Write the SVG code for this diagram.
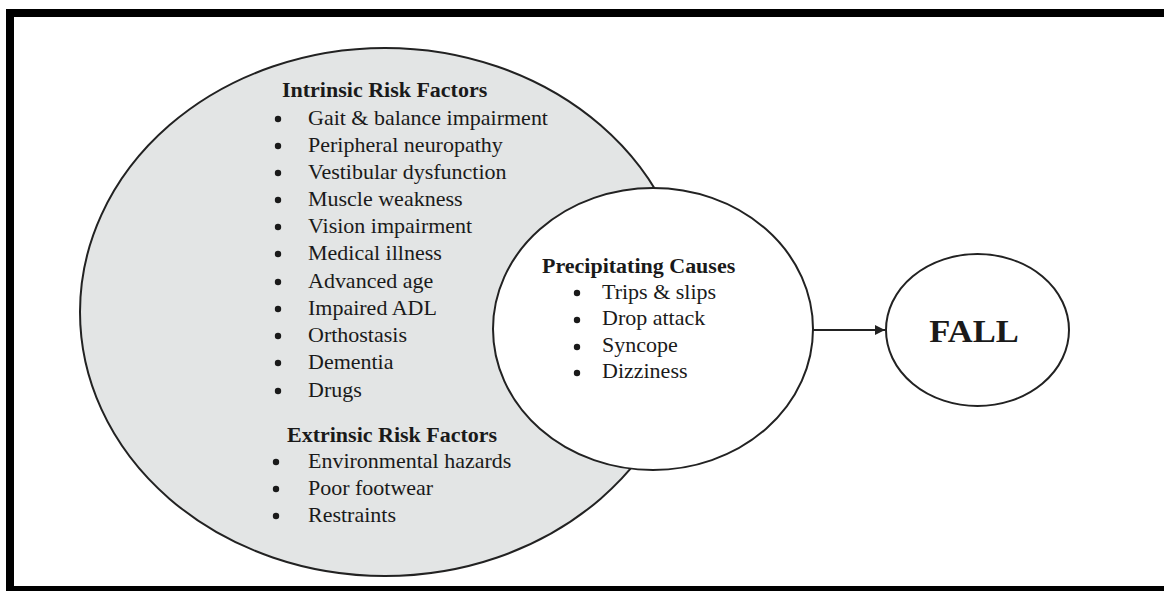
<svg xmlns="http://www.w3.org/2000/svg" width="1164" height="591" viewBox="0 0 1164 591">
<defs>
<style>
.t{font-family:"Liberation Serif","Times New Roman",serif;font-size:20px;fill:#1a1a1a}
.b{font-weight:bold}
.node{stroke:#222;stroke-width:2}
.dot{fill:#1a1a1a}
</style>
<marker id="ah" viewBox="0 0 10 10" refX="10" refY="5" markerWidth="15" markerHeight="10" markerUnits="userSpaceOnUse" orient="auto">
<path d="M0,0 L10,5 L0,10 z" fill="#222"/>
</marker>
</defs>
<rect x="0" y="0" width="1164" height="591" fill="#fff"/>
<rect id="frame" x="10" y="13" width="1170" height="577" fill="none" stroke="#000" stroke-width="8"/>

<g id="risk-factors">
<ellipse class="node" cx="385" cy="312" rx="305" ry="264" fill="#e3e5e5"/>
<g transform="translate(282,0) scale(1.1,1)">
<text class="t b" x="0" y="97">Intrinsic Risk Factors</text>
</g>
<g class="dot">
<circle cx="278" cy="119" r="3.2"/><circle cx="278" cy="146" r="3.2"/><circle cx="278" cy="173" r="3.2"/>
<circle cx="278" cy="200" r="3.2"/><circle cx="278" cy="227" r="3.2"/><circle cx="278" cy="254" r="3.2"/>
<circle cx="278" cy="282" r="3.2"/><circle cx="278" cy="309" r="3.2"/><circle cx="278" cy="336" r="3.2"/>
<circle cx="278" cy="363" r="3.2"/><circle cx="278" cy="391" r="3.2"/>
<circle cx="276" cy="462" r="3.2"/><circle cx="276" cy="489" r="3.2"/><circle cx="276" cy="516" r="3.2"/>
</g>
<g transform="translate(308,0) scale(1.1,1)">
<text class="t" x="0" y="125">Gait &amp; balance impairment</text>
<text class="t" x="0" y="152">Peripheral neuropathy</text>
<text class="t" x="0" y="179">Vestibular dysfunction</text>
<text class="t" x="0" y="206">Muscle weakness</text>
<text class="t" x="0" y="233">Vision impairment</text>
<text class="t" x="0" y="260">Medical illness</text>
<text class="t" x="0" y="288">Advanced age</text>
<text class="t" x="0" y="315">Impaired ADL</text>
<text class="t" x="0" y="342">Orthostasis</text>
<text class="t" x="0" y="369">Dementia</text>
<text class="t" x="0" y="397">Drugs</text>
<text class="t" x="0" y="468">Environmental hazards</text>
<text class="t" x="0" y="495">Poor footwear</text>
<text class="t" x="0" y="522">Restraints</text>
</g>
<g transform="translate(287,0) scale(1.1,1)">
<text class="t b" x="0" y="442">Extrinsic Risk Factors</text>
</g>
</g>

<g id="precipitating-causes">
<ellipse class="node" cx="653" cy="329" rx="160" ry="141" fill="#fff"/>
<g transform="translate(542,0) scale(1.1,1)">
<text class="t b" x="0" y="273">Precipitating Causes</text>
</g>
<g class="dot">
<circle cx="577" cy="293" r="3.2"/><circle cx="577" cy="320" r="3.2"/><circle cx="577" cy="347" r="3.2"/><circle cx="577" cy="373" r="3.2"/>
</g>
<g transform="translate(602,0) scale(1.1,1)">
<text class="t" x="0" y="299">Trips &amp; slips</text>
<text class="t" x="0" y="325">Drop attack</text>
<text class="t" x="0" y="352">Syncope</text>
<text class="t" x="0" y="378">Dizziness</text>
</g>
</g>

<g id="fall">
<ellipse class="node" cx="977.5" cy="330" rx="91.5" ry="76" fill="#fff"/>
<g transform="translate(974,0) scale(1.08,1)">
<text class="t b" x="0" y="342" text-anchor="middle" style="font-size:32px">FALL</text>
</g>
</g>

<g id="connectors">
<line x1="813" y1="330" x2="885" y2="330" stroke="#222" stroke-width="2" marker-end="url(#ah)"/>
</g>
</svg>
